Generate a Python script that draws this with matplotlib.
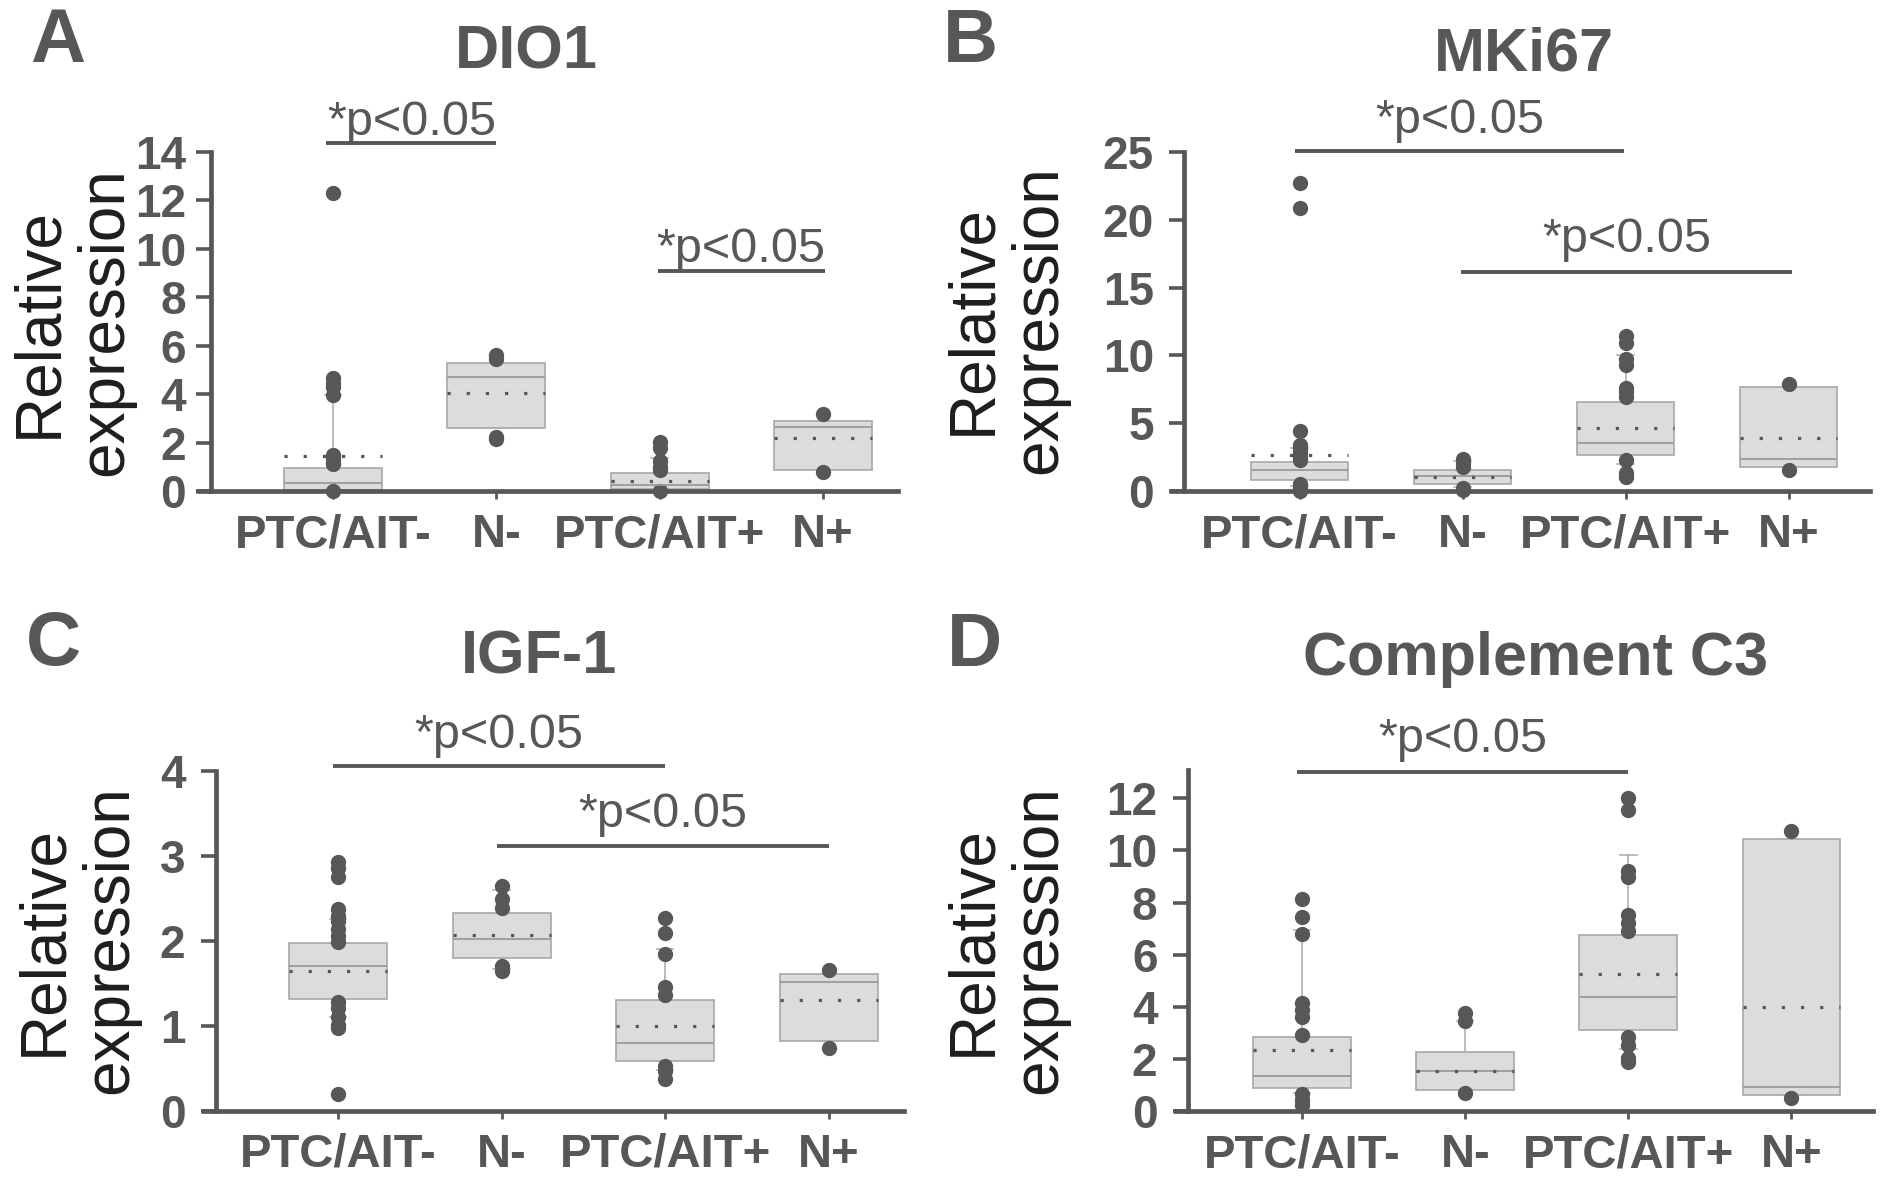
import matplotlib
matplotlib.use("Agg")
import matplotlib.pyplot as plt

plt.rcParams['font.family'] = ['Liberation Sans', 'DejaVu Sans']

categories = ['PTC/AIT-', 'N-', 'PTC/AIT+', 'N+']

# ---- Panel A: DIO1 ----
dio1_q1 = [0.06, 2.60, 0.08, 0.85]
dio1_med = [0.34, 4.70, 0.23, 2.65]
dio1_q3 = [0.93, 5.29, 0.73, 2.90]
dio1_mean = [1.45, 4.05, 0.42, 2.18]
dio1_wlo = [0.02, 2.60, 0.05, 0.85]
dio1_whi = [3.95, 5.29, 1.35, 2.90]
dio1_out = [[12.3, 4.65, 4.45, 4.3, 3.95, 1.5, 1.35, 1.2, 1.1, 0.0],
            [5.6, 5.45, 2.25, 2.15],
            [2.02, 1.79, 1.24, 1.01, 0.86, 0.0],
            [3.2, 0.78]]
dio1_ticks = [0, 2, 4, 6, 8, 10, 12, 14]

# ---- Panel B: MKi67 ----
mki_q1 = [0.83, 0.55, 2.64, 1.80]
mki_med = [1.58, 1.10, 3.53, 2.36]
mki_q3 = [2.14, 1.58, 6.58, 7.64]
mki_mean = [2.64, 1.03, 4.64, 3.94]
mki_wlo = [0.40, 0.30, 2.00, 1.80]
mki_whi = [3.20, 2.20, 10.0, 7.64]
mki_out = [[22.7, 20.9, 4.44, 3.4, 3.1, 2.8, 2.5, 2.3, 0.5, 0.2, 0.0],
           [2.36, 2.1, 1.8, 0.2, 0.05],
           [11.4, 10.9, 9.7, 9.3, 7.6, 7.3, 6.9, 2.3, 1.3, 1.0],
           [7.9, 1.58]]
mki_ticks = [0, 5, 10, 15, 20, 25]

# ---- Panel C: IGF-1 ----
igf_q1 = [1.31, 1.79, 0.58, 0.82]
igf_med = [1.70, 2.02, 0.79, 1.51]
igf_q3 = [1.97, 2.33, 1.30, 1.61]
igf_mean = [1.64, 2.06, 1.00, 1.30]
igf_wlo = [1.10, 1.67, 0.48, 0.82]
igf_whi = [2.25, 2.60, 1.90, 1.61]
igf_out = [[2.93, 2.85, 2.75, 2.37, 2.29, 2.23, 2.14, 2.05, 1.98, 1.28, 1.21, 1.10, 1.01, 0.97, 0.19],
           [2.64, 2.49, 2.38, 1.70, 1.64],
           [2.26, 2.09, 1.84, 1.45, 1.36, 0.52, 0.46, 0.37],
           [1.65, 0.74]]
igf_ticks = [0, 1, 2, 3, 4]

# ---- Panel D: Complement C3 ----
c3_q1 = [0.87, 0.79, 3.10, 0.62]
c3_med = [1.34, 1.52, 4.37, 0.94]
c3_q3 = [2.84, 2.26, 6.74, 10.43]
c3_mean = [2.35, 1.54, 5.24, 4.00]
c3_wlo = [0.70, 0.79, 2.38, 0.62]
c3_whi = [6.95, 3.46, 9.81, 10.43]
c3_out = [[8.12, 7.46, 6.78, 4.14, 3.89, 3.61, 2.91, 0.65, 0.43, 0.22],
          [3.75, 3.46, 0.68],
          [12.0, 11.57, 9.23, 8.99, 7.54, 7.21, 6.92, 2.84, 2.52, 2.02, 1.88],
          [10.75, 0.5]]
c3_ticks = [0, 2, 4, 6, 8, 10, 12]

# significance annotations: (group_from, group_to, bar level, text level)
dio1_sig = [(-0.04, 1.0, 14.37, 14.72), (1.99, 3.01, 9.09, 9.45)]
mki_sig = [(-0.03, 1.99, 25.04, 26.4), (0.99, 3.02, 16.15, 17.6)]
igf_sig = [(-0.03, 2.0, 4.05, 4.27), (0.97, 3.0, 3.11, 3.34)]
c3_sig = [(-0.03, 2.0, 13.03, 13.8)]

DARK = '#575757'
BOXFACE = '#dcdcdc'
BOXEDGE = '#a8a8a8'

W, H = 1890, 1180
fig = plt.figure(figsize=(W / 100, H / 100), dpi=100)


def px_axes(left, right, bottom, top):
    return fig.add_axes([left / W, 1 - bottom / H, (right - left) / W, (bottom - top) / H])


panels = [
    dict(rect=(211, 898, 491, 152), xlim=(-0.747, 3.46), ylim=(0, 14), q1=dio1_q1, med=dio1_med,
         q3=dio1_q3, mean=dio1_mean, wlo=dio1_wlo, whi=dio1_whi, out=dio1_out, ticks=dio1_ticks,
         sig=dio1_sig, title='DIO1', tpos=(526, 53), letter='A', lpos=(58, 42), ypos=(72, 322), ypad=7),
    dict(rect=(1184.5, 1870, 491, 152), xlim=(-0.706, 3.5), ylim=(0, 25), q1=mki_q1, med=mki_med,
         q3=mki_q3, mean=mki_mean, wlo=mki_wlo, whi=mki_whi, out=mki_out, ticks=mki_ticks,
         sig=mki_sig, title='MKi67', tpos=(1524, 55), letter='B', lpos=(970, 42), ypos=(1006, 320), ypad=11),
    dict(rect=(216, 904, 1110.5, 770.6), xlim=(-0.746, 3.46), ylim=(0, 4), q1=igf_q1, med=igf_med,
         q3=igf_q3, mean=igf_mean, wlo=igf_wlo, whi=igf_whi, out=igf_out, ticks=igf_ticks,
         sig=igf_sig, title='IGF-1', tpos=(539, 658), letter='C', lpos=(54, 646), ypos=(77, 940), ypad=11),
    dict(rect=(1188, 1873, 1111, 770), xlim=(-0.70, 3.5), ylim=(0, 13.09), q1=c3_q1, med=c3_med,
         q3=c3_q3, mean=c3_mean, wlo=c3_wlo, whi=c3_whi, out=c3_out, ticks=c3_ticks,
         sig=c3_sig, title='Complement C3', tpos=(1536, 660), letter='D', lpos=(975, 646), ypos=(1006, 940), ypad=11),
]

for p in panels:
    ax = px_axes(*p['rect'])
    stats = []
    for i, lab in enumerate(categories):
        stats.append(dict(label=lab, q1=p['q1'][i], med=p['med'][i], q3=p['q3'][i],
                          mean=p['mean'][i], whislo=p['wlo'][i], whishi=p['whi'][i],
                          fliers=p['out'][i]))
    arts = ax.bxp(stats, positions=range(len(categories)), widths=0.6, capwidths=0.1,
                  patch_artist=True, showmeans=True, meanline=True, showfliers=True,
                  boxprops=dict(facecolor=BOXFACE, edgecolor=BOXEDGE, linewidth=1.2),
                  medianprops=dict(color='#9a9a9a', linewidth=1.3),
                  meanprops=dict(color=DARK, linestyle=(0, (1, 5)), linewidth=2.3),
                  whiskerprops=dict(color='#b0b0b0', linewidth=1.2),
                  capprops=dict(color='#b0b0b0', linewidth=1.2),
                  flierprops=dict(marker='o', markersize=10, markerfacecolor=DARK,
                                  markeredgecolor=DARK, linestyle='none'))
    for key in arts:
        for a in arts[key]:
            a.set_clip_on(False)
    ax.set_xlim(*p['xlim'])
    ax.set_ylim(*p['ylim'])
    ax.set_yticks(p['ticks'])
    ax.set_xticks(range(len(categories)))
    ax.set_xticklabels(categories)
    for s in ['top', 'right']:
        ax.spines[s].set_visible(False)
    for s in ['left', 'bottom']:
        ax.spines[s].set_color(DARK)
        ax.spines[s].set_linewidth(3.4)
    ax.plot([-0.022, 0], [0, 0], transform=ax.transAxes, color=DARK, lw=3.4,
            clip_on=False, solid_capstyle='butt')
    ax.tick_params(axis='y', direction='out', length=11, width=2.6, color=DARK,
                   labelsize=33, labelcolor=DARK, pad=p['ypad'])
    ax.tick_params(axis='x', direction='out', length=6, width=2, color=DARK,
                   labelsize=34, labelcolor=DARK, pad=10)
    for t in ax.get_xticklabels() + ax.get_yticklabels():
        t.set_fontweight('bold')
    ax.set_facecolor('none')

    for (x1, x2, yb, yt) in p['sig']:
        ax.plot([x1, x2], [yb, yb], color=DARK, lw=2.8, clip_on=False, solid_capstyle='butt')
        ax.text((x1 + x2) / 2, yt, '*p<0.05', ha='center', va='baseline', fontsize=35,
                color=DARK, clip_on=False)

    fig.text(p['tpos'][0] / W, 1 - p['tpos'][1] / H, p['title'], ha='center', va='center',
             fontsize=44, fontweight='bold', color=DARK)
    fig.text(p['lpos'][0] / W, 1 - p['lpos'][1] / H, p['letter'], ha='center', va='center',
             fontsize=55, fontweight='bold', color=DARK)
    fig.text(p['ypos'][0] / W, 1 - p['ypos'][1] / H, 'Relative\nexpression', rotation=90,
             ha='center', va='center', fontsize=46, color='#1e1e1e', linespacing=1.12)

fig.savefig('out.png', dpi=100, facecolor='white')
